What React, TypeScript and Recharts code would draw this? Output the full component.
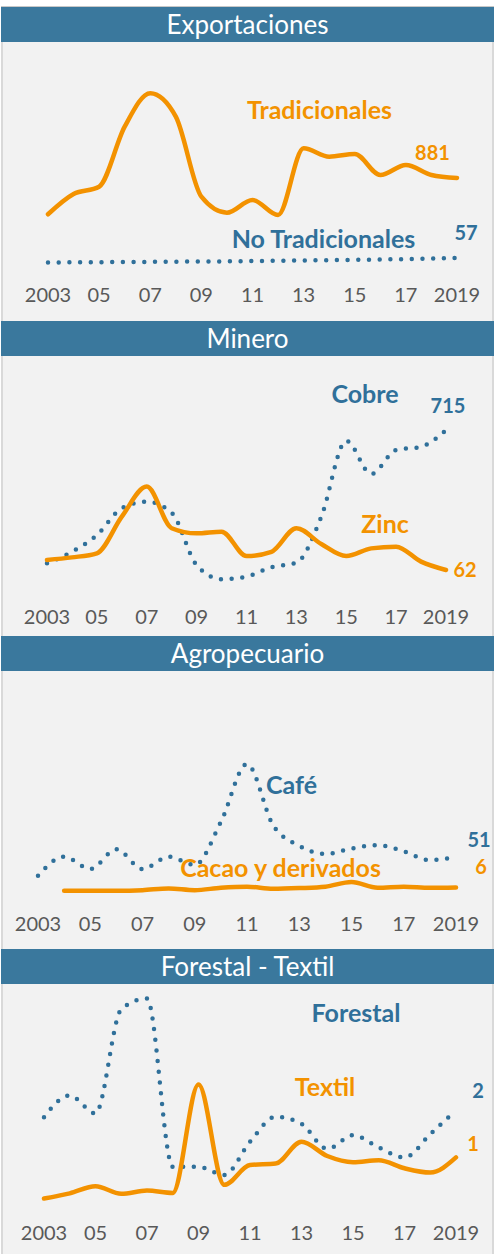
import React from 'react';
import { LineChart, Line, XAxis, YAxis } from 'recharts';

const years = [2003, 2004, 2005, 2006, 2007, 2008, 2009, 2010, 2011, 2012, 2013, 2014, 2015, 2016, 2017, 2018, 2019];
const tickYears = [2003, 2005, 2007, 2009, 2011, 2013, 2015, 2017, 2019];
const tickLabels = ['2003', '05', '07', '09', '11', '13', '15', '17', '2019'];

// Exportaciones
const tradicionales = [507, 716, 791, 1409, 1753, 1512, 688, 523, 654, 500, 1187, 1100, 1128, 912, 1015, 912, 881];
const noTradicionales = [10, 12, 14, 15, 17, 19, 20, 22, 25, 28, 31, 34, 37, 41, 45, 50, 57];
// Minero
const cobre = [93, 147, 225, 350, 381, 329, 85, 19, 31, 75, 96, 311, 665, 510, 622, 637, 715];
const zinc = [109, 121, 140, 311, 451, 257, 233, 241, 127, 147, 257, 183, 127, 163, 171, 101, 62];
// Agropecuario
const cafe = [23, 51, 33, 62, 33, 51, 39, 102, 187, 97, 67, 55, 63, 68, 59, 46, 51];
const cacao = [null, 1.2, 1.2, 1.2, 2, 4.5, 2, 5.5, 7, 4, 5, 7, 14, 5.5, 7, 5.5, 6];
// Forestal - Textil
const forestal = [1.85, 2.31, 1.93, 4.13, 4.36, 0.8, 0.8, 0.63, 1.33, 1.86, 1.71, 1.18, 1.47, 1.21, 1.0, 1.49, 2.0];
const textil = [0.13, 0.24, 0.39, 0.23, 0.3, 0.25, 2.54, 0.42, 0.84, 0.87, 1.33, 1.03, 0.9, 0.94, 0.77, 0.68, 1.0];

const FONT = 'Lato, "Open Sans", sans-serif';
const ORANGE = '#F39200';
const BLUE = '#30709A';
const HEADER = '#3A789D';
const AXIS_TEXT = '#595959';
const HEADER_H = 35;

type Series = {
  key: string;
  name: string;
  values: (number | null)[];
  color: string;
  dotted?: boolean;
  nameX: number;
  nameY: number;
  endDx: number;
  endDy: number;
};

type PanelProps = {
  title: string;
  headerTop: number;
  bodyH: number;
  x0: number;
  x1: number;
  plotTop: number;
  plotBottom: number;
  domain: [number, number];
  tickY: number;
  series: Series[];
};

function Panel({ title, headerTop, bodyH, x0, x1, plotTop, plotBottom, domain, tickY, series }: PanelProps) {
  const bodyTop = headerTop + HEADER_H;
  const data = years.map((year, i) => {
    const row: Record<string, number | null> = { year };
    series.forEach((s) => (row[s.key] = s.values[i]));
    return row;
  });
  const last = years.length - 1;

  const renderTick = (p: any) => {
    const idx = tickYears.indexOf(p.payload.value);
    return (
      <text
        x={p.x}
        y={p.y + (tickY - plotBottom)}
        textAnchor="middle"
        dominantBaseline="central"
        fill={AXIS_TEXT}
        style={{ fontFamily: FONT, fontSize: 20 }}
      >
        {tickLabels[idx]}
      </text>
    );
  };

  // value label at the last point of each series
  const endLabel = (s: Series) => (p: any) => {
    if (p.index !== last) return <g key={`d-${s.key}-${p.index}`} />;
    return (
      <text
        key={`d-${s.key}-${p.index}`}
        x={p.cx + s.endDx}
        y={p.cy + s.endDy}
        textAnchor="middle"
        dominantBaseline="central"
        fill={s.color}
        style={{ fontFamily: FONT, fontSize: 20, fontWeight: 700 }}
      >
        {Math.round(p.value)}
      </text>
    );
  };

  return (
    <>
      <div
        style={{
          position: 'absolute',
          left: 1,
          top: headerTop,
          width: 493,
          height: HEADER_H,
          background: HEADER,
          color: '#fff',
          fontFamily: FONT,
          fontSize: 26,
          lineHeight: `${HEADER_H}px`,
          textAlign: 'center',
        }}
      >
        {title}
      </div>
      <div
        style={{
          position: 'absolute',
          left: 1,
          top: bodyTop,
          width: 493,
          height: bodyH,
          background: '#F2F2F2',
          boxShadow: 'inset 2px 0 0 #D9D9D9, inset -2px 0 0 #D9D9D9',
        }}
      >
        <LineChart
          width={493}
          height={bodyH}
          data={data}
          margin={{ top: plotTop - bodyTop, right: 494 - x1, bottom: 0, left: x0 - 1 }}
        >
          <XAxis
            dataKey="year"
            type="number"
            domain={[2003, 2019]}
            ticks={tickYears}
            height={bodyTop + bodyH - plotBottom}
            axisLine={false}
            tickLine={false}
            tickSize={0}
            tickMargin={0}
            tick={renderTick}
            interval={0}
          />
          <YAxis hide domain={domain} />
          {series.map((s) => (
            <Line
              key={s.key}
              dataKey={s.key}
              type="monotone"
              stroke={s.color}
              strokeWidth={s.dotted ? 4.5 : 4.5}
              strokeDasharray={s.dotted ? '0 10.7' : undefined}
              strokeLinecap="round"
              dot={endLabel(s)}
              activeDot={false}
              isAnimationActive={false}
            />
          ))}
        </LineChart>
        {series.map((s) => (
          <span
            key={`n-${s.key}`}
            style={{
              position: 'absolute',
              left: s.nameX - 1,
              top: s.nameY - bodyTop,
              transform: 'translate(-50%, -50%)',
              whiteSpace: 'nowrap',
              color: s.color,
              fontFamily: FONT,
              fontSize: 25,
              fontWeight: 700,
              lineHeight: 1,
            }}
          >
            {s.name}
          </span>
        ))}
      </div>
    </>
  );
}

export default function App() {
  return (
    <div style={{ position: 'absolute', left: 0, top: 0, width: 502, height: 1254, background: '#fff', overflow: 'hidden' }}>
      <div style={{ position: 'absolute', left: 1, top: 6, width: 493, height: 1, background: '#C8C8C8' }} />
      <Panel
        title="Exportaciones"
        headerTop={7}
        bodyH={279}
        x0={48}
        x1={457}
        plotTop={69.3}
        plotBottom={263.5}
        domain={[0, 2000]}
        tickY={294}
        series={[
          { key: 'trad', name: 'Tradicionales', values: tradicionales, color: ORANGE, nameX: 319.5, nameY: 109, endDx: -24.5, endDy: -25.7 },
          { key: 'notrad', name: 'No Tradicionales', values: noTradicionales, color: BLUE, dotted: true, nameX: 323.5, nameY: 238, endDx: 9, endDy: -26 },
        ]}
      />
      <Panel
        title="Minero"
        headerTop={321}
        bodyH={280}
        x0={47}
        x1={446}
        plotTop={411.8}
        plotBottom={583.3}
        domain={[0, 800]}
        tickY={616}
        series={[
          { key: 'cobre', name: 'Cobre', values: cobre, color: BLUE, dotted: true, nameX: 365, nameY: 393, endDx: 2, endDy: -25 },
          { key: 'zinc', name: 'Zinc', values: zinc, color: ORANGE, nameX: 385, nameY: 523, endDx: 19, endDy: -1 },
        ]}
      />
      <Panel
        title="Agropecuario"
        headerTop={636}
        bodyH={278}
        x0={38}
        x1={456}
        plotTop={755.1}
        plotBottom={891.5}
        domain={[0, 200]}
        tickY={923}
        series={[
          { key: 'cafe', name: 'Café', values: cafe, color: BLUE, dotted: true, nameX: 291.5, nameY: 784, endDx: 23, endDy: -18 },
          { key: 'cacao', name: 'Cacao y derivados', values: cacao, color: ORANGE, nameX: 280.5, nameY: 867, endDx: 25, endDy: -21 },
        ]}
      />
      <Panel
        title="Forestal - Textil"
        headerTop={949}
        bodyH={270}
        x0={44}
        x1={456}
        plotTop={996.6}
        plotBottom={1204.7}
        domain={[0, 4.4]}
        tickY={1232}
        series={[
          { key: 'forestal', name: 'Forestal', values: forestal, color: BLUE, dotted: true, nameX: 356, nameY: 1012, endDx: 22, endDy: -20 },
          { key: 'textil', name: 'Textil', values: textil, color: ORANGE, nameX: 325, nameY: 1086, endDx: 17, endDy: -14 },
        ]}
      />
    </div>
  );
}
